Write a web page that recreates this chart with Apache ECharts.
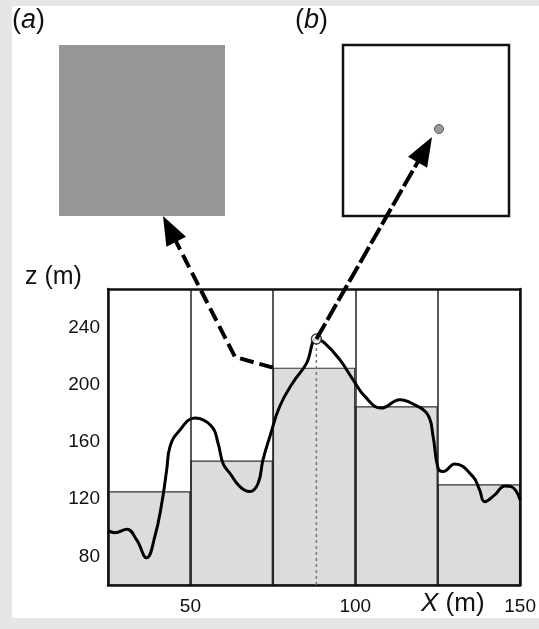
<!DOCTYPE html>
<html>
<head>
<meta charset="utf-8">
<script src="https://cdn.jsdelivr.net/npm/echarts@6/dist/echarts.min.js"></script>
<style>
  html, body { margin: 0; padding: 0; background: #e6e6e6; }
  #wrap { position: relative; width: 539px; height: 629px; background: #e6e6e6; }
  #panel { position: absolute; left: 12px; top: 6px; width: 527px; height: 612px; background: #fff; }
  #main { position: absolute; left: 0; top: 0; width: 539px; height: 629px; }
</style>
</head>
<body>
<div id="wrap">
  <div id="panel"></div>
  <div id="main"></div>
</div>
<script>
// block means (25 m wide blocks)
const blockNames = ['25-50', '50-75', '75-100', '100-125', '125-150'];
const blockZ = [125.5, 147, 212, 185, 130.5];

// elevation profile
const profileX = [25, 27.1, 30.7, 33.7, 36.7, 39.2, 41.3, 42.8, 43.8, 46.3, 51.4, 56.4, 58.4, 59.9, 62, 65, 68, 70.5, 72, 74.1, 77.1, 81.2, 85.2, 88.2, 90.8, 95.3, 99.3, 102.9, 107.9, 113.5, 118, 122, 123.6, 125.1, 126.6, 130.2, 135.7, 137.7, 139.2, 142.3, 145.3, 147.3, 150];
const profileZ = [98, 96.6, 99, 91.5, 79, 93.8, 117, 140.5, 156.8, 167, 176.7, 171, 159, 145, 138, 128.8, 125.3, 131, 147.5, 163.9, 185, 202, 215, 232, 229, 217.6, 203.6, 191.9, 183.7, 189.6, 186, 179, 163.9, 141.7, 139.3, 144.7, 135.8, 126.5, 118.3, 123, 129.3, 128.8, 119.5];

// highlighted sample point
const pointX = 88.2;
const pointZ = 232;

const zTicks = [80, 120, 160, 200, 240];
const xMin = 25, xMax = 150, zMin = 60, zMax = 267;

const font = "'Liberation Sans', Arial, sans-serif";

let chart = echarts.init(document.getElementById('main'));

let profile = [];
for (let i = 0; i < profileX.length; i++) {
  profile.push([profileX[i], profileZ[i]]);
}

let option = {
  backgroundColor: 'transparent',
  animation: false,
  grid: { left: 108, right: 16, top: 289, bottom: 44 },
  xAxis: [
    {
      type: 'value', min: xMin, max: xMax, interval: 25, position: 'bottom', z: 3,
      axisLine: { show: true, lineStyle: { color: '#111', width: 2.5 } },
      axisTick: { show: false },
      splitLine: { show: true, lineStyle: { color: '#222', width: 1.5 } },
      axisLabel: {
        fontFamily: font, fontSize: 19, color: '#111', margin: 12,
        formatter: (v) => (v % 50 === 0 ? String(v) : '')
      }
    },
    {
      type: 'category', data: blockNames, position: 'top', z: 3,
      axisLine: { show: true, lineStyle: { color: '#111', width: 2.5 } },
      axisTick: { show: false },
      axisLabel: { show: false },
      splitLine: { show: false }
    }
  ],
  yAxis: [
    {
      type: 'value', min: zMin, max: zMax, position: 'left', z: 3,
      axisLine: { show: true, lineStyle: { color: '#111', width: 2.5 } },
      axisTick: { show: false },
      splitLine: { show: false },
      axisLabel: { customValues: zTicks, fontFamily: font, fontSize: 19, color: '#111', margin: 8 }
    },
    {
      type: 'value', min: zMin, max: zMax, position: 'right', z: 3,
      axisLine: { show: true, lineStyle: { color: '#111', width: 2.5 } },
      axisTick: { show: false },
      splitLine: { show: false },
      axisLabel: { show: false }
    }
  ],
  series: [
    {
      type: 'bar', xAxisIndex: 1, yAxisIndex: 0, data: blockZ,
      barWidth: '100%', barCategoryGap: '0%', z: 2,
      itemStyle: { color: '#dcdcdc', borderColor: '#333', borderWidth: 1.2 }
    },
    {
      type: 'line', xAxisIndex: 0, yAxisIndex: 0,
      data: [[pointX, zMin], [pointX, pointZ]],
      symbol: 'none', z: 4,
      lineStyle: { color: '#777', width: 1.5, type: [3, 3] }
    },
    {
      type: 'line', xAxisIndex: 0, yAxisIndex: 0, data: profile,
      smooth: 0.45, symbol: 'none', z: 5,
      lineStyle: { color: '#000', width: 3 }
    },
    {
      type: 'scatter', xAxisIndex: 0, yAxisIndex: 0, data: [[pointX, pointZ]],
      symbolSize: 10, z: 6,
      itemStyle: { color: '#fff', borderColor: '#111', borderWidth: 1.5 }
    }
  ]
};

chart.setOption(option);

// anchor points of the annotation arrows, taken from the axes
let pPoint = chart.convertToPixel({ xAxisIndex: 0, yAxisIndex: 0 }, [pointX, pointZ]);
let pCorner = chart.convertToPixel({ xAxisIndex: 0, yAxisIndex: 0 }, [75, blockZ[2]]);

const arrowHead = (tip, from, len, half) => {
  let dx = tip[0] - from[0], dy = tip[1] - from[1];
  let d = Math.sqrt(dx * dx + dy * dy);
  let ux = dx / d, uy = dy / d;
  let bx = tip[0] - ux * len, by = tip[1] - uy * len;
  return [tip, [bx - uy * half, by + ux * half], [bx + uy * half, by - ux * half]];
};

const shorten = (tip, from, len) => {
  let dx = tip[0] - from[0], dy = tip[1] - from[1];
  let d = Math.sqrt(dx * dx + dy * dy);
  return [tip[0] - dx / d * len, tip[1] - dy / d * len];
};

const tipA = [163, 216];
const kneeA = [235, 357];
const tipB = [432, 137];

chart.setOption({
  graphic: [
    { type: 'rect', z: 1, shape: { x: 59, y: 45, width: 166, height: 171 }, style: { fill: '#969696' } },
    { type: 'rect', z: 1, shape: { x: 343, y: 45, width: 166, height: 171 }, style: { fill: '#fff', stroke: '#111', lineWidth: 2.5 } },
    { type: 'circle', z: 2, shape: { cx: 439, cy: 129, r: 4.5 }, style: { fill: '#999', stroke: '#555', lineWidth: 1 } },
    {
      type: 'text', z: 2, left: 12, top: 7,
      style: { text: '({i|a})', font: '27px ' + font, fill: '#111', rich: { i: { fontStyle: 'italic', fontSize: 27, fontFamily: font } } }
    },
    {
      type: 'text', z: 2, left: 295, top: 7,
      style: { text: '({i|b})', font: '27px ' + font, fill: '#111', rich: { i: { fontStyle: 'italic', fontSize: 27, fontFamily: font } } }
    },
    { type: 'text', z: 2, left: 25, top: 265, style: { text: 'z (m)', font: '25px ' + font, fill: '#111' } },
    {
      type: 'text', z: 2, left: 421, top: 591,
      style: { text: '{i|X} (m)', font: '26px ' + font, fill: '#111', rich: { i: { fontStyle: 'italic', fontSize: 26, fontFamily: font } } }
    },
    {
      type: 'polyline', z: 10,
      shape: { points: [pCorner, kneeA, shorten(tipA, kneeA, 20)] },
      style: { stroke: '#000', lineWidth: 4, lineDash: [14, 6], fill: null }
    },
    { type: 'polygon', z: 10, shape: { points: arrowHead(tipA, kneeA, 29, 11) }, style: { fill: '#000' } },
    {
      type: 'polyline', z: 10,
      shape: { points: [pPoint, shorten(tipB, pPoint, 20)] },
      style: { stroke: '#000', lineWidth: 4, lineDash: [18, 4], fill: null }
    },
    { type: 'polygon', z: 10, shape: { points: arrowHead(tipB, pPoint, 29, 11) }, style: { fill: '#000' } }
  ]
});
</script>
</body>
</html>
